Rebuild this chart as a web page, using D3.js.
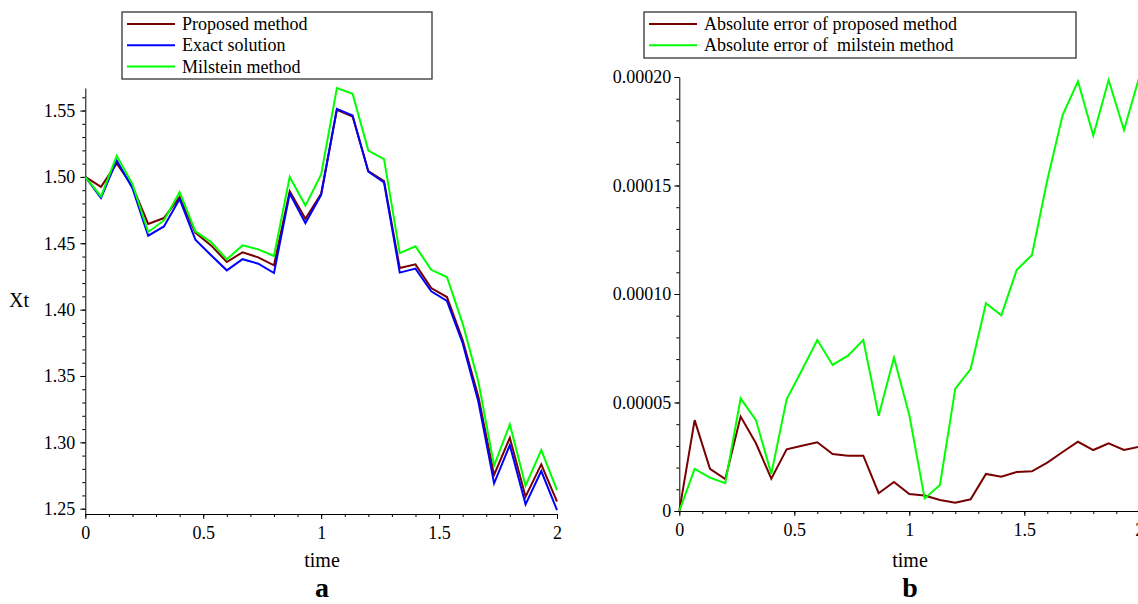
<!DOCTYPE html>
<html>
<head>
<meta charset="utf-8">
<script src="https://cdn.jsdelivr.net/npm/d3@7"></script>
<style>
  body { margin: 0; background: #fff; }
  svg text { font-family: "Liberation Serif", "Times New Roman", serif; fill: #000; }
</style>
</head>
<body>
<div id="chart"></div>
<script>
// time grid (31 steps on [0,2])
const time = [0, 0.0667, 0.1333, 0.2, 0.2667, 0.3333, 0.4, 0.4667, 0.5333, 0.6, 0.6667,
  0.7333, 0.8, 0.8667, 0.9333, 1, 1.0667, 1.1333, 1.2, 1.2667, 1.3333, 1.4, 1.4667,
  1.5333, 1.6, 1.6667, 1.7333, 1.8, 1.8667, 1.9333, 2];

// panel a
const proposed = [1.5000,1.4925,1.5102,1.4930,1.4646,1.4690,1.4848,1.4580,1.4484,1.4359,1.4432,
  1.4394,1.4334,1.4892,1.4685,1.4873,1.5505,1.5455,1.5043,1.4968,1.4313,1.4341,1.4163,
  1.4095,1.3770,1.3343,1.2754,1.3034,1.2590,1.2834,1.2553];
const exact = [1.5000,1.4842,1.5124,1.4915,1.4557,1.4627,1.4833,1.4527,1.4410,1.4296,1.4380,
  1.4346,1.4276,1.4875,1.4652,1.4865,1.5513,1.5463,1.5039,1.4958,1.4279,1.4309,1.4138,
  1.4065,1.3747,1.3305,1.2691,1.2979,1.2533,1.2784,1.2490];
const milstein = [1.5000,1.4853,1.5159,1.4945,1.4585,1.4672,1.4885,1.4590,1.4509,1.4379,1.4484,
  1.4454,1.4404,1.5000,1.4784,1.5019,1.5670,1.5626,1.5199,1.5134,1.4426,1.4477,1.4300,
  1.4246,1.3895,1.3456,1.2824,1.3135,1.2673,1.2942,1.2640];

// panel b
const errProposed = [0,4.19e-5,1.94e-5,1.47e-5,4.35e-5,3.12e-5,1.49e-5,2.84e-5,3.01e-5,3.17e-5,2.63e-5,
  2.55e-5,2.55e-5,0.82e-5,1.34e-5,0.78e-5,0.71e-5,0.51e-5,0.38e-5,0.54e-5,1.71e-5,1.58e-5,
  1.80e-5,1.83e-5,2.23e-5,2.72e-5,3.19e-5,2.81e-5,3.12e-5,2.81e-5,2.96e-5];
const errMilstein = [0,1.94e-5,1.54e-5,1.28e-5,5.19e-5,4.19e-5,1.71e-5,5.15e-5,6.50e-5,7.88e-5,6.73e-5,
  7.16e-5,7.88e-5,4.39e-5,7.07e-5,4.42e-5,0.58e-5,1.20e-5,5.64e-5,6.54e-5,9.57e-5,9.02e-5,
  11.1e-5,11.8e-5,15.25e-5,18.25e-5,19.8e-5,17.3e-5,19.86e-5,17.56e-5,20.0e-5];

const xTicks = [0, 0.5, 1, 1.5, 2];
const xTickLabels = ["0", "0.5", "1", "1.5", "2"];
const yTicksA = [1.25, 1.30, 1.35, 1.40, 1.45, 1.50, 1.55];
const yTicksB = [0, 0.00005, 0.0001, 0.00015, 0.0002];
const yTickLabelsB = ["0", "0.00005", "0.00010", "0.00015", "0.00020"];

const RED = "#780000", BLUE = "#0000ff", GREEN = "#00ff00";
const SERIF = "'Liberation Serif', 'Times New Roman', serif";

const svg = d3.select("#chart").append("svg")
  .attr("width", 1138).attr("height", 604);

const drawPanel = (p) => {
  const g = svg.append("g");
  const x = d3.scaleLinear().domain([0, 2]).range(p.xRange);
  const y = d3.scaleLinear().domain(p.yDomain).range(p.yRange);

  // minor ticks
  g.append("g").attr("transform", `translate(0,${p.yRange[0]})`)
    .call(d3.axisBottom(x).tickValues(d3.range(0, 2.001, 0.1)).tickSize(3).tickFormat(""))
    .call(a => a.select(".domain").remove());
  g.append("g").attr("transform", `translate(${p.xRange[0]},0)`)
    .call(d3.axisLeft(y).tickValues(p.yMinor).tickSize(3).tickFormat(""))
    .call(a => a.select(".domain").remove());

  g.append("g").attr("transform", `translate(0,${p.yRange[0]})`)
    .call(d3.axisBottom(x).tickValues(xTicks).tickSize(5).tickSizeOuter(0)
      .tickPadding(7).tickFormat((d, i) => xTickLabels[i]));
  g.append("g").attr("transform", `translate(${p.xRange[0]},0)`)
    .call(d3.axisLeft(y).tickValues(p.yTicks).tickSize(5).tickSizeOuter(0)
      .tickPadding(p.yPad).tickFormat((d, i) => p.yLabels[i]));
  g.selectAll("g").attr("font-family", SERIF).attr("font-size", 18);
  g.selectAll(".tick text").style("font-size", "18px").style("font-family", SERIF);
  g.selectAll(".domain, .tick line").attr("stroke", "#000");

  const line = (vals) => d3.line().x((d, i) => x(time[i])).y(d => y(d))(vals);
  p.series.forEach(s => {
    g.append("path").attr("d", line(s.values))
      .attr("fill", "none").attr("stroke", s.color).attr("stroke-width", 2)
      .attr("stroke-linejoin", "miter");
  });

  // legend
  const lg = g.append("g");
  lg.append("rect").attr("x", p.legend[0]).attr("y", 12)
    .attr("width", p.legend[1]).attr("height", 21 * p.series.length + 4)
    .attr("fill", "#fff").attr("stroke", "#333").attr("stroke-width", 1.3);
  p.series.forEach((s, i) => {
    const cy = 24 + i * 21.3;
    lg.append("line").attr("x1", p.legend[0] + 5).attr("x2", p.legend[0] + 53)
      .attr("y1", cy).attr("y2", cy).attr("stroke", s.color).attr("stroke-width", 2);
    lg.append("text").attr("x", p.legend[0] + 60).attr("y", cy + 6)
      .style("font-size", "18px").attr("xml:space", "preserve").text(s.name);
  });

  g.append("text").attr("x", p.timeX).attr("y", 567).attr("text-anchor", "middle")
    .style("font-size", "20px").text("time");
  g.append("text").attr("x", p.timeX).attr("y", 597).attr("text-anchor", "middle")
    .style("font-size", "28px").style("font-weight", "bold").text(p.tag);
};

drawPanel({
  xRange: [85.3, 557], yDomain: [1.246, 1.567], yRange: [514, 88],
  yTicks: yTicksA, yLabels: yTicksA.map(d => d.toFixed(2)),
  yMinor: d3.range(1.25, 1.5601, 0.01), yPad: 5,
  series: [
    { name: "Proposed method", values: proposed, color: RED },
    { name: "Exact solution", values: exact, color: BLUE },
    { name: "Milstein method", values: milstein, color: GREEN }
  ],
  legend: [122, 310], timeX: 322, tag: "a"
});

drawPanel({
  xRange: [679.3, 1139.3], yDomain: [0, 0.0002], yRange: [511, 77],
  yTicks: yTicksB, yLabels: yTickLabelsB,
  yMinor: d3.range(0, 0.0002001, 0.00001), yPad: 3,
  series: [
    { name: "Absolute error of proposed method", values: errProposed, color: RED },
    { name: "Absolute error of  milstein method", values: errMilstein, color: GREEN }
  ],
  legend: [644, 432], timeX: 910, tag: "b"
});

svg.append("text").attr("x", 9).attr("y", 307)
  .style("font-size", "20px").text("Xt");
</script>
</body>
</html>
